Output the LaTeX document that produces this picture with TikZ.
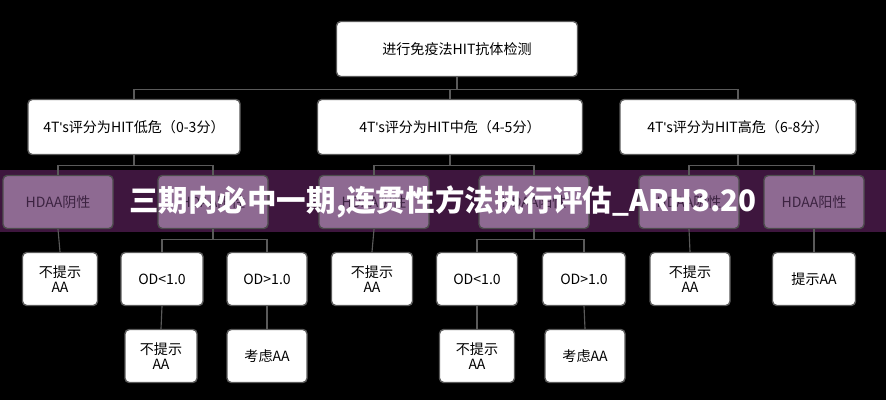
\documentclass[tikz,border=0pt]{standalone}
\usepackage{fontspec}
\setmainfont{Noto Sans CJK SC}
\newfontfamily\latinq{Liberation Sans}
\usetikzlibrary{positioning}
\definecolor{boxline}{RGB}{90,90,90}
\definecolor{hdaa}{RGB}{142,106,146}
\definecolor{hdaatext}{RGB}{60,35,65}
\definecolor{banner}{RGB}{62,22,62}
\tikzset{
  box/.style 2 args={draw=boxline, line width=1pt, fill=white, rounded corners=3pt,
    minimum width=#1*0.025cm, minimum height=#2*0.025cm, align=center,
    inner sep=1pt, font=\fontsize{10}{11}\selectfont},
  hbox/.style={box={#1}{53}, draw=black!70, fill=hdaa, text=hdaatext},
  link/.style={draw=boxline, line width=0.8pt}
}
\newcommand{\apos}{{\latinq'}}
\begin{document}
\begin{tikzpicture}[x=0.025cm, y=-0.025cm]
\fill[black] (0,0) rectangle (886,400);
\useasboundingbox (0,0) rectangle (886,400);
% banner
\fill[banner] (0,170) rectangle (886,232);

% top
\node[box={241}{55}] (test) at (457,49) {进行免疫法HIT抗体检测};

% risk groups
\node[box={212}{55}] (low)  at (134,127) {4T\apos s评分为HIT低危（0-3分）};
\node[box={265}{55}] (mid)  at (450,127) {4T\apos s评分为HIT中危（4-5分）};
\node[box={236}{55}] (high) at (738,127) {4T\apos s评分为HIT高危（6-8分）};

% HDAA results
\node[hbox=110] (lowneg)  at (58,202)  {HDAA阴性};
\node[hbox=110] (lowpos)  at (213,202) {HDAA阳性};
\node[hbox=110] (midneg)  at (374,202) {HDAA阴性};
\node[hbox=110] (midpos)  at (534,202) {HDAA阳性};
\node[hbox=100] (highneg) at (689,202) {HDAA阴性};
\node[hbox=100] (highpos) at (814,202) {HDAA阳性};

% OD level
\node[box={75}{53}] (n1) at (60,279)  {不提示\\AA};
\node[box={82}{53}] (n2) at (162,279) {OD<1.0};
\node[box={80}{53}] (n3) at (267,279) {OD>1.0};
\node[box={81}{53}] (n4) at (372,279) {不提示\\AA};
\node[box={81}{53}] (n5) at (477,279) {OD<1.0};
\node[box={83}{53}] (n6) at (584,279) {OD>1.0};
\node[box={80}{53}] (n7) at (690,279) {不提示\\AA};
\node[box={83}{53}] (n8) at (814,279) {提示AA};

% conclusions
\node[box={72}{53}] (c1) at (161,356) {不提示\\AA};
\node[box={80}{53}] (c2) at (267,356) {考虑AA};
\node[box={75}{53}] (c3) at (477,356) {不提示\\AA};
\node[box={80}{53}] (c4) at (585,356) {考虑AA};

% connectors
\draw[link] (test.south) -- ++(0,12) -| (low.north);
\draw[link] (test.south) -- ++(0,12) -| (high.north);
\draw[link] (test.south) -- ++(0,12) -| (mid.north);
\foreach \g/\a/\b in {low/lowneg/lowpos, mid/midneg/midpos, high/highneg/highpos}{
  \draw[link] (\g.south) -- ++(0,10) -| (\a.north);
  \draw[link] (\g.south) -- ++(0,10) -| (\b.north);
}
\foreach \a/\b in {lowneg/n1, midneg/n4, highneg/n7, highpos/n8}
  \draw[link] (\a.south) -- (\b.north);
\foreach \a/\b/\c in {lowpos/n2/n3, midpos/n5/n6}{
  \draw[link] (\a.south) -- ++(0,10) -| (\b.north);
  \draw[link] (\a.south) -- ++(0,10) -| (\c.north);
}
\foreach \a/\b in {n2/c1, n3/c2, n5/c3, n6/c4}
  \draw[link] (\a.south) -- (\b.north);

% title over the banner
\node[text=white, font=\bfseries\fontsize{21}{23}\selectfont] (title) at (443,202)
  {三期内必中一期,连贯性方法执行评估\_ARH3.20};
\end{tikzpicture}
\end{document}
